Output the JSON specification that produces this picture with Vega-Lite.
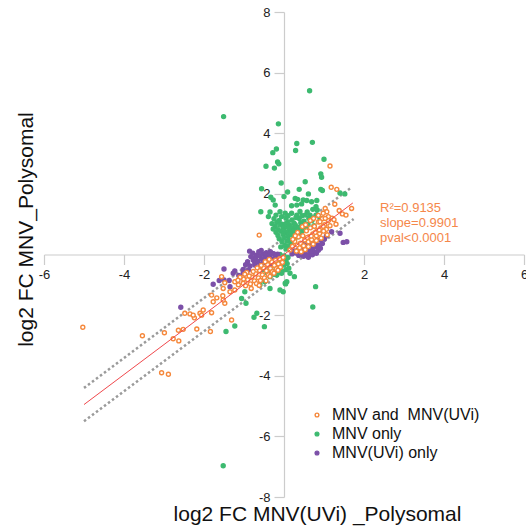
{
  "$schema": "https://vega.github.io/schema/vega-lite/v6.json",
  "autosize": {"type": "none"},
  "width": 480,
  "height": 485,
  "padding": {"left": 44, "top": 12, "right": 2, "bottom": 34},
  "background": "white",
  "config": {"view": {"stroke": null}, "font": "Liberation Sans"},
  "datasets": {
    "pts": [
      {"x":-1.51,"y":4.55,"g":"MNV only"},{"x":0.64,"y":5.40,"g":"MNV only"},{"x":-0.14,"y":4.31,"g":"MNV only"},{"x":0.32,"y":3.66,"g":"MNV only"},{"x":0.71,"y":3.70,"g":"MNV only"},{"x":0.29,"y":3.43,"g":"MNV only"},{"x":-0.19,"y":3.48,"g":"MNV only"},{"x":-0.28,"y":3.36,"g":"MNV only"},{"x":-0.16,"y":3.05,"g":"MNV only"},{"x":-0.13,"y":2.99,"g":"MNV only"},{"x":-0.45,"y":2.91,"g":"MNV only"},{"x":-0.24,"y":2.85,"g":"MNV only"},{"x":-0.07,"y":2.36,"g":"MNV only"},{"x":-0.56,"y":2.17,"g":"MNV only"},{"x":-0.33,"y":1.89,"g":"MNV only"},{"x":0.09,"y":2.06,"g":"MNV only"},{"x":0.53,"y":2.40,"g":"MNV only"},{"x":0.38,"y":2.15,"g":"MNV only"},{"x":0.61,"y":2.00,"g":"MNV only"},{"x":0.00,"y":1.91,"g":"MNV only"},{"x":0.28,"y":1.85,"g":"MNV only"},{"x":0.34,"y":1.82,"g":"MNV only"},{"x":1.00,"y":3.14,"g":"MNV only"},{"x":0.92,"y":2.66,"g":"MNV only"},{"x":0.94,"y":2.55,"g":"MNV only"},{"x":0.92,"y":2.15,"g":"MNV only"},{"x":0.96,"y":2.11,"g":"MNV only"},{"x":1.40,"y":2.03,"g":"MNV only"},{"x":1.52,"y":2.00,"g":"MNV only"},
      {"x":-0.27,"y":1.80,"g":"MNV only"},{"x":-0.22,"y":1.63,"g":"MNV only"},{"x":-0.58,"y":1.41,"g":"MNV only"},{"x":-0.39,"y":1.25,"g":"MNV only"},{"x":0.48,"y":1.80,"g":"MNV only"},{"x":0.19,"y":1.61,"g":"MNV only"},{"x":0.32,"y":1.63,"g":"MNV only"},{"x":0.69,"y":1.74,"g":"MNV only"},{"x":0.82,"y":1.78,"g":"MNV only"},{"x":0.80,"y":1.58,"g":"MNV only"},{"x":0.83,"y":1.47,"g":"MNV only"},{"x":0.72,"y":1.49,"g":"MNV only"},{"x":0.44,"y":1.67,"g":"MNV only"},{"x":0.57,"y":1.78,"g":"MNV only"},{"x":0.19,"y":1.36,"g":"MNV only"},{"x":0.03,"y":1.36,"g":"MNV only"},{"x":0.32,"y":1.30,"g":"MNV only"},{"x":0.53,"y":1.30,"g":"MNV only"},{"x":0.65,"y":1.30,"g":"MNV only"},{"x":-0.10,"y":1.41,"g":"MNV only"},{"x":-0.06,"y":1.25,"g":"MNV only"},
      {"x":-0.25,"y":1.18,"g":"MNV only"},{"x":-0.12,"y":1.12,"g":"MNV only"},{"x":0.05,"y":1.20,"g":"MNV only"},{"x":0.20,"y":1.14,"g":"MNV only"},{"x":0.38,"y":1.19,"g":"MNV only"},{"x":0.50,"y":1.10,"g":"MNV only"},{"x":-0.30,"y":1.02,"g":"MNV only"},{"x":-0.18,"y":1.06,"g":"MNV only"},{"x":-0.05,"y":1.00,"g":"MNV only"},{"x":0.10,"y":1.07,"g":"MNV only"},{"x":0.25,"y":1.03,"g":"MNV only"},{"x":0.42,"y":1.05,"g":"MNV only"},{"x":0.60,"y":1.00,"g":"MNV only"},{"x":-0.22,"y":0.93,"g":"MNV only"},{"x":-0.10,"y":0.97,"g":"MNV only"},{"x":0.00,"y":0.90,"g":"MNV only"},{"x":0.15,"y":0.96,"g":"MNV only"},{"x":0.30,"y":0.92,"g":"MNV only"},{"x":0.45,"y":0.97,"g":"MNV only"},{"x":0.55,"y":0.90,"g":"MNV only"},{"x":-0.27,"y":0.84,"g":"MNV only"},{"x":-0.15,"y":0.82,"g":"MNV only"},{"x":-0.02,"y":0.86,"g":"MNV only"},{"x":0.12,"y":0.80,"g":"MNV only"},{"x":0.22,"y":0.86,"g":"MNV only"},{"x":0.35,"y":0.83,"g":"MNV only"},{"x":0.48,"y":0.80,"g":"MNV only"},{"x":-0.20,"y":0.73,"g":"MNV only"},{"x":-0.08,"y":0.77,"g":"MNV only"},{"x":0.05,"y":0.72,"g":"MNV only"},{"x":0.18,"y":0.74,"g":"MNV only"},{"x":0.30,"y":0.70,"g":"MNV only"},{"x":0.42,"y":0.72,"g":"MNV only"},{"x":-0.15,"y":0.63,"g":"MNV only"},{"x":-0.02,"y":0.66,"g":"MNV only"},{"x":0.10,"y":0.60,"g":"MNV only"},{"x":0.20,"y":0.64,"g":"MNV only"},{"x":0.33,"y":0.58,"g":"MNV only"},{"x":-0.12,"y":0.52,"g":"MNV only"},{"x":0.00,"y":0.55,"g":"MNV only"},{"x":0.12,"y":0.48,"g":"MNV only"},{"x":0.25,"y":0.50,"g":"MNV only"},{"x":-0.05,"y":0.42,"g":"MNV only"},{"x":0.08,"y":0.44,"g":"MNV only"},{"x":0.18,"y":0.38,"g":"MNV only"},{"x":0.02,"y":0.30,"g":"MNV only"},{"x":0.12,"y":0.28,"g":"MNV only"},{"x":-0.08,"y":0.25,"g":"MNV only"},{"x":0.05,"y":0.18,"g":"MNV only"},
      {"x":0.08,"y":0.92,"g":"MNV only"},{"x":0.18,"y":0.88,"g":"MNV only"},{"x":0.28,"y":0.98,"g":"MNV only"},{"x":0.38,"y":0.90,"g":"MNV only"},{"x":0.00,"y":0.78,"g":"MNV only"},{"x":0.25,"y":0.78,"g":"MNV only"},{"x":0.14,"y":0.68,"g":"MNV only"},{"x":0.05,"y":1.02,"g":"MNV only"},{"x":-0.20,"y":1.30,"g":"MNV only"},{"x":0.10,"y":1.28,"g":"MNV only"},{"x":0.30,"y":1.22,"g":"MNV only"},{"x":0.45,"y":1.28,"g":"MNV only"},{"x":0.62,"y":1.20,"g":"MNV only"},{"x":0.70,"y":1.12,"g":"MNV only"},{"x":0.80,"y":1.30,"g":"MNV only"},{"x":0.58,"y":1.40,"g":"MNV only"},{"x":0.40,"y":1.42,"g":"MNV only"},{"x":-0.35,"y":1.40,"g":"MNV only"},{"x":0.90,"y":1.20,"g":"MNV only"},{"x":0.75,"y":0.95,"g":"MNV only"},
      {"x":-0.35,"y":-1.12,"g":"MNV only"},{"x":-0.02,"y":-1.23,"g":"MNV only"},{"x":0.07,"y":-0.90,"g":"MNV only"},{"x":0.04,"y":-0.97,"g":"MNV only"},{"x":0.26,"y":-0.73,"g":"MNV only"},{"x":0.79,"y":-1.06,"g":"MNV only"},{"x":0.72,"y":-1.73,"g":"MNV only"},{"x":-0.95,"y":-1.61,"g":"MNV only"},{"x":-0.75,"y":-2.07,"g":"MNV only"},{"x":-1.45,"y":-2.54,"g":"MNV only"},{"x":-1.23,"y":-2.36,"g":"MNV only"},{"x":-0.49,"y":-2.38,"g":"MNV only"},{"x":-1.52,"y":-6.97,"g":"MNV only"},{"x":-0.98,"y":-1.23,"g":"MNV only"},{"x":-1.06,"y":-1.45,"g":"MNV only"},{"x":-0.68,"y":-1.94,"g":"MNV only"},{"x":-0.60,"y":-1.00,"g":"MNV only"},{"x":-0.48,"y":-0.90,"g":"MNV only"},{"x":-0.35,"y":-0.73,"g":"MNV only"},{"x":-0.18,"y":-0.68,"g":"MNV only"},{"x":-0.06,"y":-0.62,"g":"MNV only"},{"x":-0.10,"y":-1.17,"g":"MNV only"},{"x":0.03,"y":-0.95,"g":"MNV only"},
      {"x":-0.40,"y":-0.30,"g":"MNV only"},{"x":-0.30,"y":-0.20,"g":"MNV only"},{"x":-0.20,"y":-0.10,"g":"MNV only"},{"x":-0.10,"y":0.00,"g":"MNV only"},{"x":0.00,"y":-0.05,"g":"MNV only"},{"x":-0.35,"y":-0.45,"g":"MNV only"},{"x":-0.25,"y":-0.35,"g":"MNV only"},{"x":-0.15,"y":-0.25,"g":"MNV only"},{"x":-0.05,"y":-0.15,"g":"MNV only"},{"x":0.05,"y":-0.20,"g":"MNV only"},{"x":-0.30,"y":-0.55,"g":"MNV only"},{"x":-0.20,"y":-0.50,"g":"MNV only"},{"x":-0.10,"y":-0.40,"g":"MNV only"},{"x":0.00,"y":-0.35,"g":"MNV only"},{"x":0.05,"y":-0.50,"g":"MNV only"},{"x":-0.15,"y":-0.60,"g":"MNV only"},{"x":-0.05,"y":-0.55,"g":"MNV only"},{"x":0.10,"y":-0.10,"g":"MNV only"},{"x":-0.42,"y":-0.60,"g":"MNV only"},{"x":-0.25,"y":-0.65,"g":"MNV only"},{"x":0.08,"y":-0.30,"g":"MNV only"},{"x":-0.50,"y":-0.50,"g":"MNV only"},{"x":0.12,"y":-0.45,"g":"MNV only"},{"x":0.15,"y":-0.62,"g":"MNV only"},
      {"x":1.19,"y":0.75,"g":"MNV(UVi) only"},{"x":1.40,"y":0.70,"g":"MNV(UVi) only"},{"x":1.48,"y":0.40,"g":"MNV(UVi) only"},{"x":1.57,"y":0.42,"g":"MNV(UVi) only"},{"x":0.90,"y":0.48,"g":"MNV(UVi) only"},{"x":0.73,"y":0.42,"g":"MNV(UVi) only"},{"x":0.86,"y":0.31,"g":"MNV(UVi) only"},
      {"x":0.35,"y":0.15,"g":"MNV(UVi) only"},{"x":0.41,"y":0.04,"g":"MNV(UVi) only"},{"x":0.46,"y":0.21,"g":"MNV(UVi) only"},{"x":0.51,"y":0.09,"g":"MNV(UVi) only"},{"x":0.56,"y":-0.01,"g":"MNV(UVi) only"},{"x":0.61,"y":0.16,"g":"MNV(UVi) only"},{"x":0.66,"y":0.06,"g":"MNV(UVi) only"},{"x":0.71,"y":0.21,"g":"MNV(UVi) only"},{"x":0.76,"y":0.09,"g":"MNV(UVi) only"},{"x":0.81,"y":0.26,"g":"MNV(UVi) only"},{"x":0.49,"y":-0.06,"g":"MNV(UVi) only"},{"x":0.61,"y":-0.09,"g":"MNV(UVi) only"},{"x":0.43,"y":0.29,"g":"MNV(UVi) only"},{"x":0.56,"y":0.31,"g":"MNV(UVi) only"},{"x":0.66,"y":0.33,"g":"MNV(UVi) only"},{"x":0.71,"y":-0.01,"g":"MNV(UVi) only"},{"x":0.86,"y":0.14,"g":"MNV(UVi) only"},{"x":0.96,"y":0.36,"g":"MNV(UVi) only"},{"x":1.01,"y":0.51,"g":"MNV(UVi) only"},{"x":0.37,"y":-0.03,"g":"MNV(UVi) only"},{"x":0.48,"y":0.36,"g":"MNV(UVi) only"},{"x":0.81,"y":0.04,"g":"MNV(UVi) only"},{"x":0.91,"y":0.21,"g":"MNV(UVi) only"},{"x":1.06,"y":0.61,"g":"MNV(UVi) only"},{"x":0.30,"y":0.05,"g":"MNV(UVi) only"},{"x":0.58,"y":0.23,"g":"MNV(UVi) only"},{"x":0.69,"y":0.12,"g":"MNV(UVi) only"},{"x":0.79,"y":0.36,"g":"MNV(UVi) only"},{"x":0.63,"y":0.41,"g":"MNV(UVi) only"},{"x":0.51,"y":0.23,"g":"MNV(UVi) only"},{"x":0.25,"y":0.12,"g":"MNV(UVi) only"},{"x":0.20,"y":0.02,"g":"MNV(UVi) only"},
      {"x":-1.77,"y":-0.98,"g":"MNV(UVi) only"},{"x":-1.62,"y":-0.86,"g":"MNV(UVi) only"},{"x":-1.50,"y":-0.84,"g":"MNV(UVi) only"},{"x":-1.37,"y":-0.86,"g":"MNV(UVi) only"},{"x":-1.35,"y":-1.06,"g":"MNV(UVi) only"},{"x":-2.58,"y":-1.74,"g":"MNV(UVi) only"},{"x":-1.50,"y":-0.48,"g":"MNV(UVi) only"},{"x":-1.23,"y":-0.54,"g":"MNV(UVi) only"},{"x":-1.13,"y":-0.69,"g":"MNV(UVi) only"},{"x":-1.02,"y":-0.62,"g":"MNV(UVi) only"},{"x":-1.27,"y":-0.62,"g":"MNV(UVi) only"},{"x":-0.85,"y":-0.38,"g":"MNV(UVi) only"},{"x":-0.73,"y":-0.35,"g":"MNV(UVi) only"},{"x":-0.60,"y":-0.31,"g":"MNV(UVi) only"},{"x":-1.02,"y":-0.49,"g":"MNV(UVi) only"},{"x":-0.89,"y":-0.51,"g":"MNV(UVi) only"},{"x":-0.78,"y":0.04,"g":"MNV(UVi) only"},{"x":-0.68,"y":-0.02,"g":"MNV(UVi) only"},{"x":-0.77,"y":-0.18,"g":"MNV(UVi) only"},
      {"x":-0.71,"y":-0.09,"g":"MNV(UVi) only"},{"x":-0.61,"y":-0.04,"g":"MNV(UVi) only"},{"x":-0.51,"y":0.01,"g":"MNV(UVi) only"},{"x":-0.56,"y":-0.14,"g":"MNV(UVi) only"},{"x":-0.46,"y":-0.09,"g":"MNV(UVi) only"},{"x":-0.41,"y":-0.21,"g":"MNV(UVi) only"},{"x":-0.66,"y":-0.23,"g":"MNV(UVi) only"},{"x":-0.51,"y":-0.26,"g":"MNV(UVi) only"},{"x":-0.36,"y":-0.04,"g":"MNV(UVi) only"},{"x":-0.31,"y":-0.14,"g":"MNV(UVi) only"},{"x":-0.26,"y":0.03,"g":"MNV(UVi) only"},{"x":-0.44,"y":0.06,"g":"MNV(UVi) only"},{"x":-0.63,"y":0.09,"g":"MNV(UVi) only"},{"x":-0.83,"y":-0.07,"g":"MNV(UVi) only"},{"x":-0.91,"y":-0.24,"g":"MNV(UVi) only"},{"x":-0.56,"y":-0.36,"g":"MNV(UVi) only"},{"x":-0.41,"y":-0.33,"g":"MNV(UVi) only"},{"x":-0.21,"y":-0.09,"g":"MNV(UVi) only"},{"x":-0.31,"y":-0.31,"g":"MNV(UVi) only"},{"x":-0.73,"y":-0.27,"g":"MNV(UVi) only"},{"x":-0.86,"y":0.11,"g":"MNV(UVi) only"},{"x":-0.57,"y":0.13,"g":"MNV(UVi) only"},{"x":-0.34,"y":0.09,"g":"MNV(UVi) only"},{"x":-0.16,"y":0.01,"g":"MNV(UVi) only"},{"x":-0.96,"y":-0.34,"g":"MNV(UVi) only"},
      {"x":-5.03,"y":-2.40,"g":"MNV and MNV(UVi)"},{"x":-3.54,"y":-2.68,"g":"MNV and MNV(UVi)"},{"x":-2.99,"y":-2.58,"g":"MNV and MNV(UVi)"},{"x":-2.77,"y":-2.78,"g":"MNV and MNV(UVi)"},{"x":-2.63,"y":-2.85,"g":"MNV and MNV(UVi)"},{"x":-2.64,"y":-2.50,"g":"MNV and MNV(UVi)"},{"x":-2.52,"y":-2.47,"g":"MNV and MNV(UVi)"},{"x":-2.18,"y":-2.46,"g":"MNV and MNV(UVi)"},{"x":-1.84,"y":-2.54,"g":"MNV and MNV(UVi)"},{"x":-3.06,"y":-3.90,"g":"MNV and MNV(UVi)"},{"x":-2.89,"y":-3.95,"g":"MNV and MNV(UVi)"},{"x":-2.48,"y":-1.94,"g":"MNV and MNV(UVi)"},{"x":-2.35,"y":-1.96,"g":"MNV and MNV(UVi)"},{"x":-2.24,"y":-2.09,"g":"MNV and MNV(UVi)"},{"x":-2.10,"y":-1.94,"g":"MNV and MNV(UVi)"},{"x":-2.02,"y":-1.83,"g":"MNV and MNV(UVi)"},{"x":-1.81,"y":-1.92,"g":"MNV and MNV(UVi)"},{"x":-1.77,"y":-1.56,"g":"MNV and MNV(UVi)"},{"x":-1.68,"y":-1.43,"g":"MNV and MNV(UVi)"},{"x":-1.53,"y":-1.36,"g":"MNV and MNV(UVi)"},{"x":-1.48,"y":-1.61,"g":"MNV and MNV(UVi)"},{"x":-1.31,"y":-2.16,"g":"MNV and MNV(UVi)"},{"x":-1.56,"y":-0.73,"g":"MNV and MNV(UVi)"},{"x":-1.23,"y":-0.90,"g":"MNV and MNV(UVi)"},{"x":-1.14,"y":-1.00,"g":"MNV and MNV(UVi)"},{"x":-1.02,"y":-0.95,"g":"MNV and MNV(UVi)"},{"x":-1.52,"y":-1.12,"g":"MNV and MNV(UVi)"},{"x":-1.35,"y":-1.23,"g":"MNV and MNV(UVi)"},{"x":-1.23,"y":-1.17,"g":"MNV and MNV(UVi)"},{"x":-1.81,"y":-1.34,"g":"MNV and MNV(UVi)"},{"x":-1.52,"y":-1.50,"g":"MNV and MNV(UVi)"},{"x":-2.27,"y":-2.00,"g":"MNV and MNV(UVi)"},{"x":-2.06,"y":-2.00,"g":"MNV and MNV(UVi)"},{"x":-1.48,"y":-0.93,"g":"MNV and MNV(UVi)"},
      {"x":-0.96,"y":-1.03,"g":"MNV and MNV(UVi)"},{"x":-0.91,"y":-0.83,"g":"MNV and MNV(UVi)"},{"x":-0.84,"y":-0.97,"g":"MNV and MNV(UVi)"},{"x":-0.81,"y":-0.74,"g":"MNV and MNV(UVi)"},{"x":-0.74,"y":-0.87,"g":"MNV and MNV(UVi)"},{"x":-0.71,"y":-0.63,"g":"MNV and MNV(UVi)"},{"x":-0.69,"y":-0.96,"g":"MNV and MNV(UVi)"},{"x":-0.64,"y":-0.77,"g":"MNV and MNV(UVi)"},{"x":-0.61,"y":-0.53,"g":"MNV and MNV(UVi)"},{"x":-0.59,"y":-0.86,"g":"MNV and MNV(UVi)"},{"x":-0.54,"y":-0.67,"g":"MNV and MNV(UVi)"},{"x":-0.51,"y":-0.44,"g":"MNV and MNV(UVi)"},{"x":-0.49,"y":-0.77,"g":"MNV and MNV(UVi)"},{"x":-0.44,"y":-0.54,"g":"MNV and MNV(UVi)"},{"x":-0.41,"y":-0.33,"g":"MNV and MNV(UVi)"},{"x":-0.39,"y":-0.67,"g":"MNV and MNV(UVi)"},{"x":-0.34,"y":-0.46,"g":"MNV and MNV(UVi)"},{"x":-0.31,"y":-0.24,"g":"MNV and MNV(UVi)"},{"x":-0.29,"y":-0.57,"g":"MNV and MNV(UVi)"},{"x":-0.24,"y":-0.36,"g":"MNV and MNV(UVi)"},{"x":-0.21,"y":-0.19,"g":"MNV and MNV(UVi)"},{"x":-0.19,"y":-0.47,"g":"MNV and MNV(UVi)"},{"x":-0.14,"y":-0.31,"g":"MNV and MNV(UVi)"},{"x":-0.11,"y":-0.14,"g":"MNV and MNV(UVi)"},{"x":-0.09,"y":-0.42,"g":"MNV and MNV(UVi)"},{"x":-0.04,"y":-0.26,"g":"MNV and MNV(UVi)"},{"x":-0.87,"y":-0.71,"g":"MNV and MNV(UVi)"},{"x":-0.77,"y":-0.56,"g":"MNV and MNV(UVi)"},{"x":-0.67,"y":-0.44,"g":"MNV and MNV(UVi)"},{"x":-0.57,"y":-0.36,"g":"MNV and MNV(UVi)"},{"x":-0.47,"y":-0.24,"g":"MNV and MNV(UVi)"},{"x":-0.37,"y":-0.16,"g":"MNV and MNV(UVi)"},{"x":-0.93,"y":-0.59,"g":"MNV and MNV(UVi)"},{"x":-1.01,"y":-0.81,"g":"MNV and MNV(UVi)"},{"x":-0.82,"y":-1.12,"g":"MNV and MNV(UVi)"},{"x":-0.62,"y":-1.02,"g":"MNV and MNV(UVi)"},{"x":-0.45,"y":-0.87,"g":"MNV and MNV(UVi)"},{"x":-0.35,"y":-0.72,"g":"MNV and MNV(UVi)"},{"x":-0.25,"y":-0.62,"g":"MNV and MNV(UVi)"},{"x":-0.15,"y":-0.52,"g":"MNV and MNV(UVi)"},{"x":-0.02,"y":-0.10,"g":"MNV and MNV(UVi)"},{"x":-1.10,"y":-0.75,"g":"MNV and MNV(UVi)"},{"x":-1.15,"y":-0.85,"g":"MNV and MNV(UVi)"},{"x":-0.98,"y":-0.65,"g":"MNV and MNV(UVi)"},
      {"x":0.21,"y":0.27,"g":"MNV and MNV(UVi)"},{"x":0.27,"y":0.43,"g":"MNV and MNV(UVi)"},{"x":0.33,"y":0.31,"g":"MNV and MNV(UVi)"},{"x":0.36,"y":0.58,"g":"MNV and MNV(UVi)"},{"x":0.41,"y":0.37,"g":"MNV and MNV(UVi)"},{"x":0.47,"y":0.62,"g":"MNV and MNV(UVi)"},{"x":0.52,"y":0.48,"g":"MNV and MNV(UVi)"},{"x":0.56,"y":0.78,"g":"MNV and MNV(UVi)"},{"x":0.63,"y":0.59,"g":"MNV and MNV(UVi)"},{"x":0.66,"y":0.88,"g":"MNV and MNV(UVi)"},{"x":0.72,"y":0.68,"g":"MNV and MNV(UVi)"},{"x":0.76,"y":0.93,"g":"MNV and MNV(UVi)"},{"x":0.83,"y":0.79,"g":"MNV and MNV(UVi)"},{"x":0.86,"y":1.07,"g":"MNV and MNV(UVi)"},{"x":0.92,"y":0.88,"g":"MNV and MNV(UVi)"},{"x":0.96,"y":1.18,"g":"MNV and MNV(UVi)"},{"x":1.02,"y":0.98,"g":"MNV and MNV(UVi)"},{"x":1.06,"y":0.83,"g":"MNV and MNV(UVi)"},{"x":1.11,"y":1.12,"g":"MNV and MNV(UVi)"},{"x":0.31,"y":0.11,"g":"MNV and MNV(UVi)"},{"x":0.39,"y":0.22,"g":"MNV and MNV(UVi)"},{"x":0.49,"y":0.29,"g":"MNV and MNV(UVi)"},{"x":0.61,"y":0.42,"g":"MNV and MNV(UVi)"},{"x":0.69,"y":0.49,"g":"MNV and MNV(UVi)"},{"x":0.81,"y":0.62,"g":"MNV and MNV(UVi)"},{"x":0.89,"y":0.69,"g":"MNV and MNV(UVi)"},{"x":0.99,"y":0.77,"g":"MNV and MNV(UVi)"},{"x":0.34,"y":0.73,"g":"MNV and MNV(UVi)"},{"x":0.46,"y":0.92,"g":"MNV and MNV(UVi)"},{"x":0.54,"y":0.98,"g":"MNV and MNV(UVi)"},{"x":0.66,"y":1.12,"g":"MNV and MNV(UVi)"},{"x":0.74,"y":1.19,"g":"MNV and MNV(UVi)"},{"x":0.86,"y":1.29,"g":"MNV and MNV(UVi)"},{"x":0.28,"y":0.62,"g":"MNV and MNV(UVi)"},{"x":0.43,"y":0.09,"g":"MNV and MNV(UVi)"},{"x":0.53,"y":0.16,"g":"MNV and MNV(UVi)"},{"x":0.61,"y":0.26,"g":"MNV and MNV(UVi)"},{"x":0.73,"y":0.34,"g":"MNV and MNV(UVi)"},{"x":0.81,"y":0.46,"g":"MNV and MNV(UVi)"},{"x":0.93,"y":0.54,"g":"MNV and MNV(UVi)"},{"x":1.15,"y":0.95,"g":"MNV and MNV(UVi)"},{"x":1.20,"y":1.20,"g":"MNV and MNV(UVi)"},{"x":0.58,"y":0.56,"g":"MNV and MNV(UVi)"},{"x":0.68,"y":0.61,"g":"MNV and MNV(UVi)"},{"x":0.78,"y":0.73,"g":"MNV and MNV(UVi)"},{"x":0.88,"y":0.81,"g":"MNV and MNV(UVi)"},{"x":0.98,"y":0.93,"g":"MNV and MNV(UVi)"},{"x":0.15,"y":0.15,"g":"MNV and MNV(UVi)"},{"x":0.22,"y":0.50,"g":"MNV and MNV(UVi)"},{"x":1.08,"y":0.65,"g":"MNV and MNV(UVi)"},
      {"x":1.15,"y":2.92,"g":"MNV and MNV(UVi)"},{"x":1.18,"y":2.22,"g":"MNV and MNV(UVi)"},{"x":1.32,"y":2.15,"g":"MNV and MNV(UVi)"},{"x":1.27,"y":1.66,"g":"MNV and MNV(UVi)"},{"x":1.69,"y":1.52,"g":"MNV and MNV(UVi)"},{"x":1.46,"y":1.34,"g":"MNV and MNV(UVi)"},{"x":1.03,"y":1.52,"g":"MNV and MNV(UVi)"},{"x":1.07,"y":1.41,"g":"MNV and MNV(UVi)"},{"x":0.98,"y":1.36,"g":"MNV and MNV(UVi)"},{"x":1.11,"y":1.25,"g":"MNV and MNV(UVi)"},{"x":1.03,"y":1.19,"g":"MNV and MNV(UVi)"},{"x":0.90,"y":1.08,"g":"MNV and MNV(UVi)"},{"x":-0.62,"y":0.64,"g":"MNV and MNV(UVi)"},{"x":1.30,"y":1.00,"g":"MNV and MNV(UVi)"},{"x":1.25,"y":1.15,"g":"MNV and MNV(UVi)"},{"x":1.38,"y":1.45,"g":"MNV and MNV(UVi)"},{"x":1.55,"y":1.30,"g":"MNV and MNV(UVi)"}
    ]
  },
  "encoding": {
    "x": {
      "field": "x", "type": "quantitative",
      "scale": {"domain": [-6, 6], "nice": false, "zero": false},
      "axis": {
        "orient": "bottom", "offset": -242.5, "values": [-6, -4, -2, 0, 2, 4, 6],
        "labelExpr": "datum.value == 0 ? '' : toString(datum.value)",
        "grid": false, "tickSize": 10, "domainColor": "#cccccc", "tickColor": "#cccccc", "domainWidth": 1.2, "tickWidth": 1.2,
        "labelFont": "Liberation Sans", "labelFontSize": 13, "labelColor": "#222222", "labelPadding": 4, "labelFlush": false, "labelOverlap": false,
        "title": "log2 FC MNV(UVi) _Polysomal", "titleFont": "Liberation Sans", "titleFontSize": 21, "titleFontWeight": "normal", "titleColor": "#111111",
        "titleX": 273, "titleY": 265.5, "titleBaseline": "alphabetic", "titleAlign": "center", "titleAngle": 0
      }
    },
    "y": {
      "field": "y", "type": "quantitative",
      "scale": {"domain": [-8, 8], "nice": false, "zero": false},
      "axis": {
        "orient": "left", "offset": -240, "values": [-8, -6, -4, -2, 0, 2, 4, 6, 8],
        "labelExpr": "datum.value == 0 ? '' : toString(datum.value)",
        "grid": false, "tickSize": 10, "domainColor": "#cccccc", "tickColor": "#cccccc", "domainWidth": 1.2, "tickWidth": 1.2,
        "labelFont": "Liberation Sans", "labelFontSize": 13, "labelColor": "#222222", "labelPadding": 4, "labelFlush": false, "labelOverlap": false,
        "title": "log2 FC MNV_Polysomal", "titleFont": "Liberation Sans", "titleFontSize": 21, "titleFontWeight": "normal", "titleColor": "#111111",
        "titleX": -252, "titleY": 217, "titleBaseline": "alphabetic", "titleAlign": "center", "titleAngle": -90
      }
    }
  },
  "layer": [
    {
      "data": {"values": [{"x": -5.0, "y": -4.40}, {"x": 1.66, "y": 2.19}]},
      "mark": {"type": "line", "color": "#9a9a9a", "strokeWidth": 2.5, "strokeDash": [2.5, 2.5]}
    },
    {
      "data": {"values": [{"x": -5.0, "y": -5.50}, {"x": 1.74, "y": 1.17}]},
      "mark": {"type": "line", "color": "#9a9a9a", "strokeWidth": 2.5, "strokeDash": [2.5, 2.5]}
    },
    {
      "data": {"name": "pts"},
      "mark": {"type": "point", "shape": "circle", "size": 16, "strokeWidth": 1.4, "opacity": 1, "filled": false},
      "encoding": {
        "stroke": {
          "field": "g", "type": "nominal",
          "scale": {"domain": ["MNV and MNV(UVi)", "MNV only", "MNV(UVi) only"], "range": ["#f5883c", "#3dba70", "#7c50a8"]},
          "legend": {
            "orient": "none", "legendX": 265, "legendY": 395, "title": null, "padding": 0,
            "labelFont": "Liberation Sans", "labelFontSize": 16, "labelColor": "#111111", "labelOffset": 7,
            "symbolSize": 14, "symbolStrokeWidth": 1.4, "rowPadding": 3,
            "labelExpr": "datum.label == 'MNV and MNV(UVi)' ? 'MNV and\u00a0 MNV(UVi)' : datum.label"
          }
        },
        "fill": {
          "field": "g", "type": "nominal",
          "scale": {"domain": ["MNV and MNV(UVi)", "MNV only", "MNV(UVi) only"], "range": ["#ffffff", "#3dba70", "#7c50a8"]},
          "legend": {
            "orient": "none", "legendX": 265, "legendY": 395, "title": null, "padding": 0,
            "labelFont": "Liberation Sans", "labelFontSize": 16, "labelColor": "#111111", "labelOffset": 7,
            "symbolSize": 14, "symbolStrokeWidth": 1.4, "rowPadding": 3,
            "labelExpr": "datum.label == 'MNV and MNV(UVi)' ? 'MNV and\u00a0 MNV(UVi)' : datum.label"
          }
        }
      }
    },
    {
      "data": {"values": [{"x": -5.0, "y": -4.95}, {"x": 1.72, "y": 1.70}]},
      "mark": {"type": "line", "color": "#f0484c", "strokeWidth": 1}
    },
    {
      "data": {"values": [{"x": 2.4, "y": 1.41, "t": ["R²=0.9135", "slope=0.9901", "pval<0.0001"]}]},
      "mark": {"type": "text", "align": "left", "baseline": "alphabetic", "font": "Liberation Sans", "fontSize": 13, "lineHeight": 15, "color": "#f5874a"},
      "encoding": {"text": {"field": "t"}}
    }
  ]
}
